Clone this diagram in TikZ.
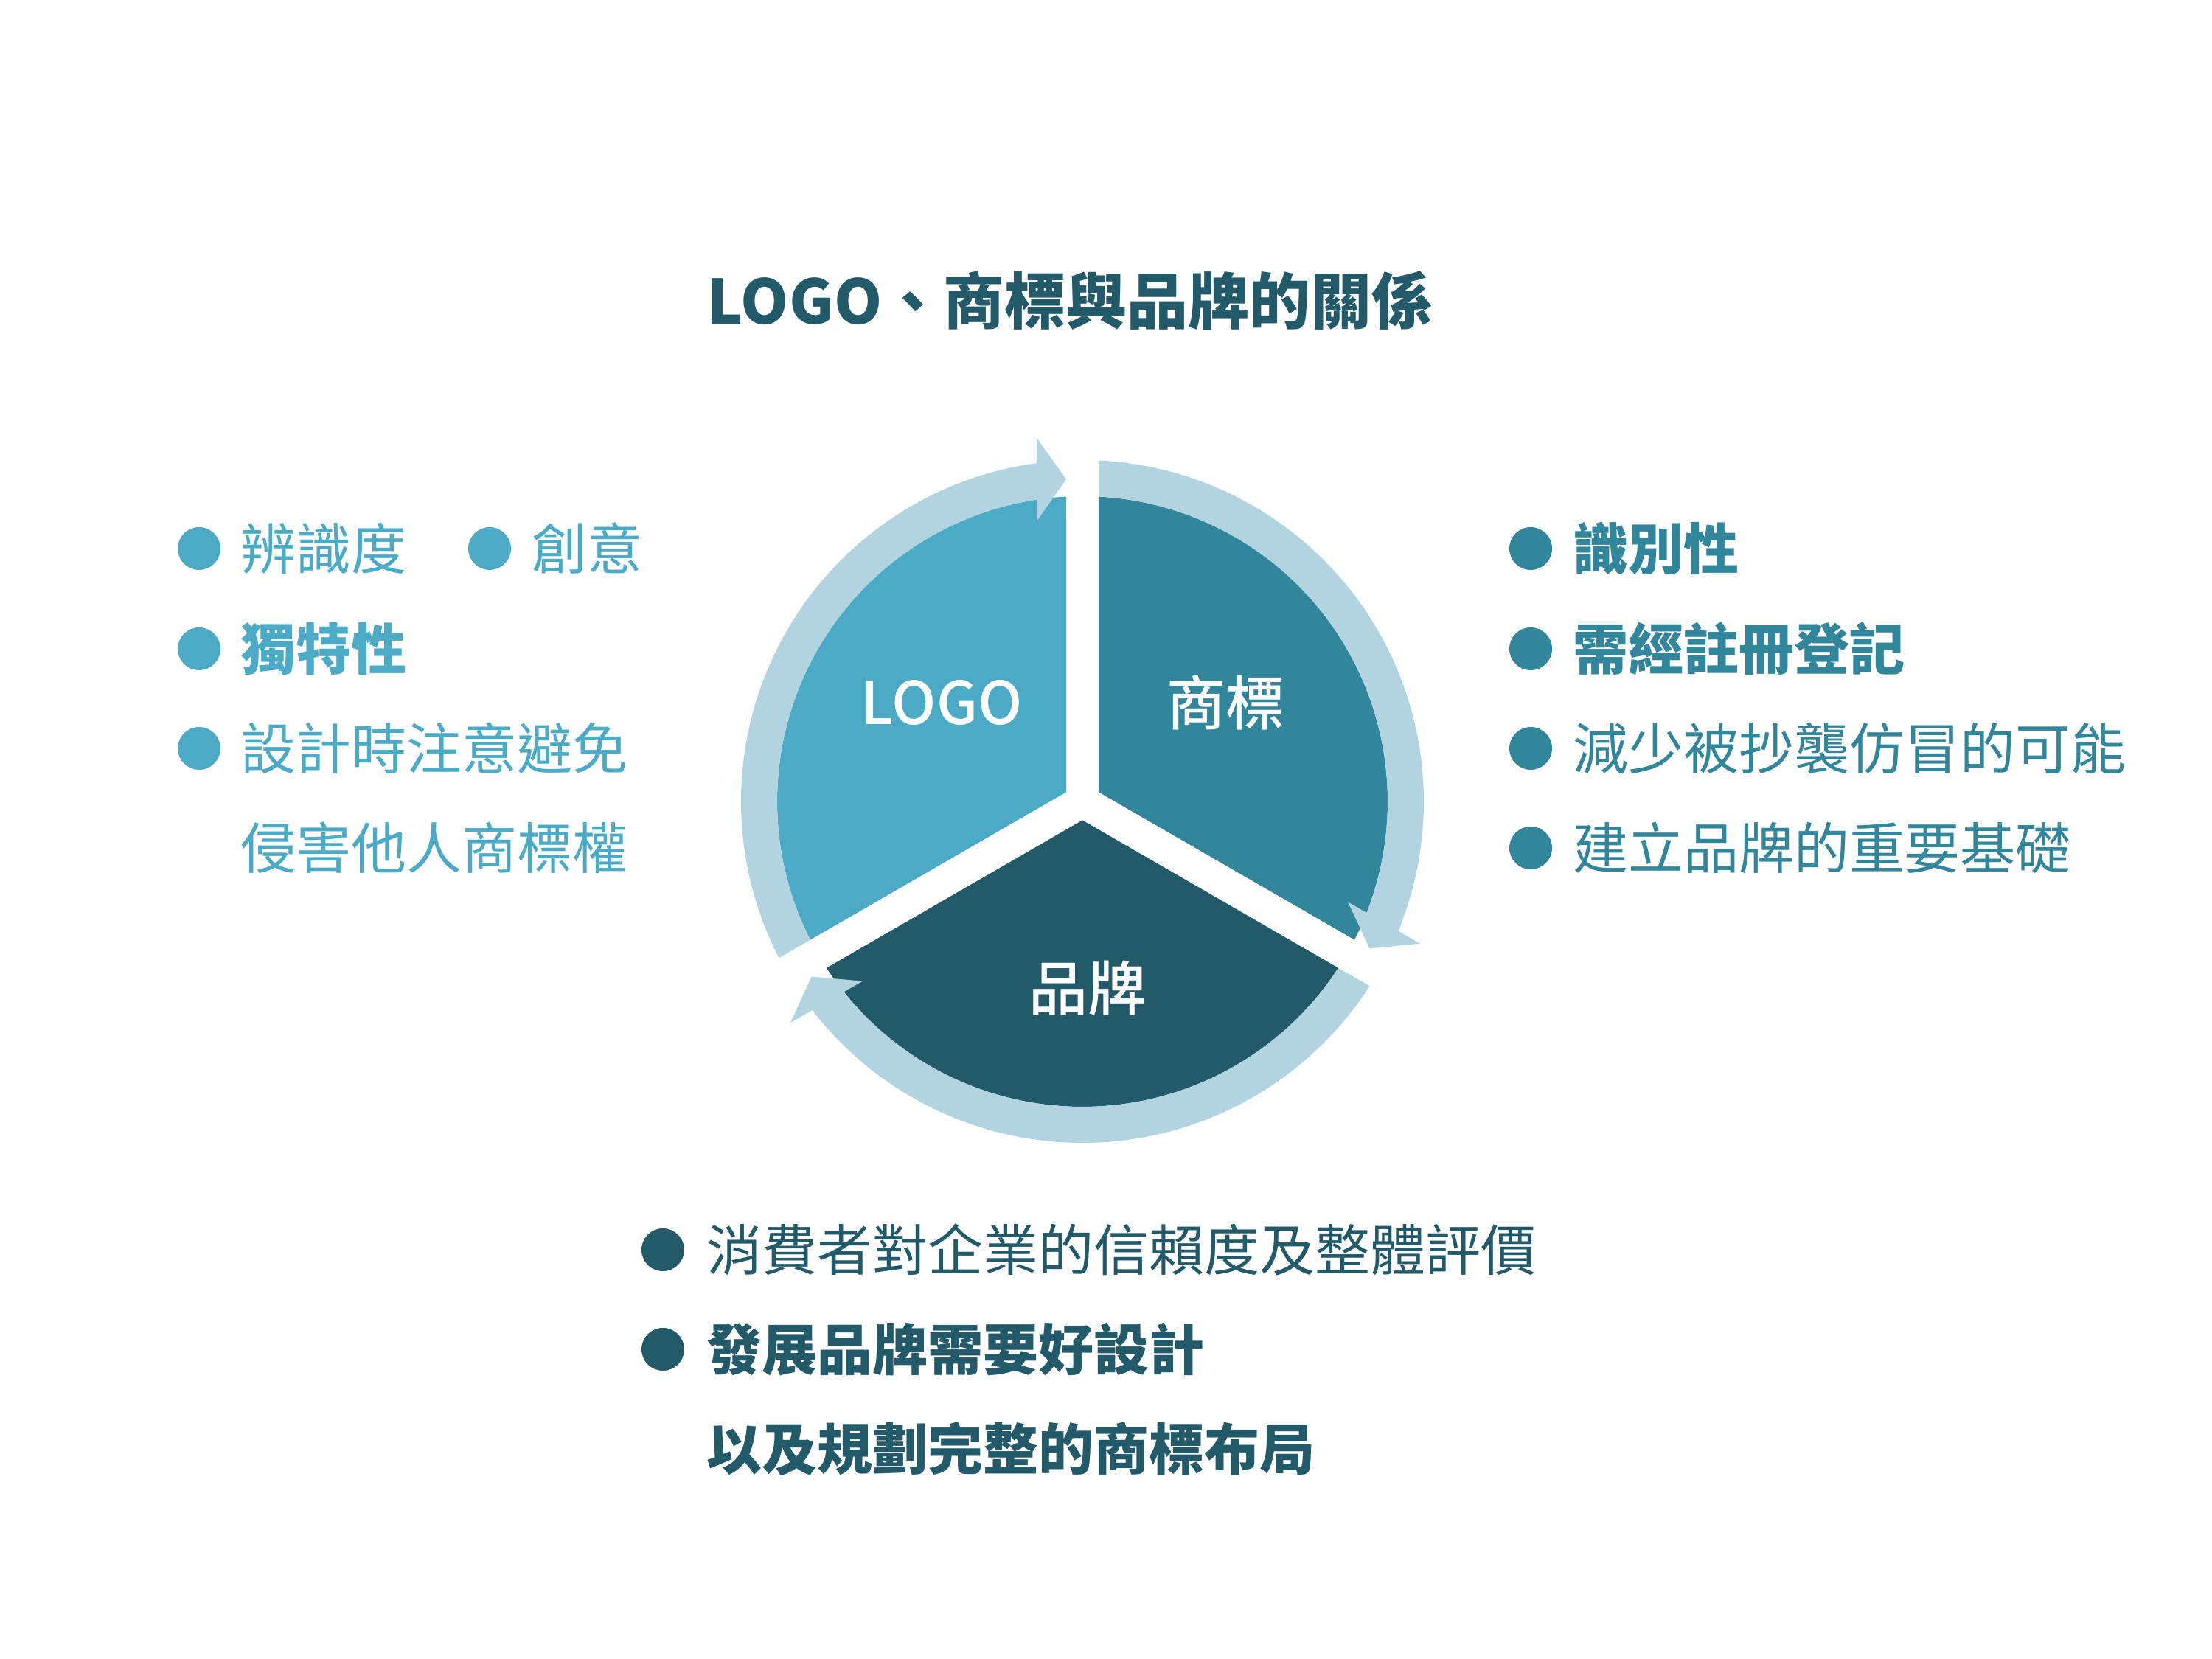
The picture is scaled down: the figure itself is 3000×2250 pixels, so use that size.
\documentclass[tikz,border=0pt]{standalone}
\usepackage{fontspec}
\setmainfont{Noto Sans CJK TC}
\newfontfamily\medfont{Noto Sans CJK TC Medium}
\definecolor{ringc}{HTML}{B1D4E0}
\definecolor{logoc}{HTML}{4BABC6}
\definecolor{tmc}{HTML}{32869C}
\definecolor{brc}{HTML}{225A6A}
\tikzset{
  ringarrow/.style={fill=ringc},
  bul/.style={circle,inner sep=0pt,minimum size=58pt},
  body/.style={anchor=west,inner sep=0pt,font=\fontsize{75}{90}\selectfont},
  pielabel/.style={inner sep=0pt,text=white,font=\medfont\fontsize{80}{96}\selectfont}
}
\begin{document}
\begin{tikzpicture}[x=1pt,y=1pt]
\fill[white] (0,0) rectangle (3000,2250);
\useasboundingbox (0,0) rectangle (3000,2250);
% pie slices and ring arrows
\foreach \rot/\col in {0/logoc,-120/tmc,-240/brc}{
  \begin{scope}[shift={(1468,1163)},rotate=\rot]
    \fill[\col] (150:25.4) -- (93.05:414) arc[start angle=93.05,end angle=206.95,radius=414pt] -- cycle;
    \fill[ringarrow] (207.28:463) arc[start angle=207.28,end angle=97.70,radius=463pt]
      -- (-62,493) -- (-22,437) -- (-62,380) -- (98.61:414)
      arc[start angle=98.61,end angle=206.95,radius=414pt] -- cycle;
  \end{scope}
}
% title
\node[inner sep=0pt,text=brc,font=\bfseries\fontsize{83}{100}\selectfont] (title) at (1451,1842) {LOGO、商標與品牌的關係};
% pie labels
\node[pielabel] (lLogo) at (1277,1297) {LOGO};
\node[pielabel] (lTm) at (1662,1297) {商標};
\node[pielabel] (lBr) at (1475,910) {品牌};
% left column
\node[bul,fill=logoc] (lb1) at (270,1506) {};
\node[body,text=logoc] (lt1) at (326,1506) {辨識度};
\node[bul,fill=logoc] (lb2) at (664,1506) {};
\node[body,text=logoc] (lt2) at (721,1506) {創意};
\node[bul,fill=logoc] (lb3) at (270,1370) {};
\node[body,text=logoc,font=\bfseries\fontsize{75}{90}\selectfont] (lt3) at (326,1370) {獨特性};
\node[bul,fill=logoc] (lb4) at (270,1235) {};
\node[body,text=logoc] (lt4) at (326,1235) {設計時注意避免};
\node[body,text=logoc] (lt5) at (326,1100) {侵害他人商標權};
% right column
\node[bul,fill=tmc] (rb1) at (2076,1506) {};
\node[body,text=tmc,font=\bfseries\fontsize{75}{90}\selectfont] (rt1) at (2133,1506) {識別性};
\node[bul,fill=tmc] (rb2) at (2076,1370) {};
\node[body,text=tmc,font=\bfseries\fontsize{75}{90}\selectfont] (rt2) at (2133,1370) {需經註冊登記};
\node[bul,fill=tmc] (rb3) at (2076,1235) {};
\node[body,text=tmc] (rt3) at (2133,1235) {減少被抄襲仿冒的可能};
\node[bul,fill=tmc] (rb4) at (2076,1100) {};
\node[body,text=tmc] (rt4) at (2133,1100) {建立品牌的重要基礎};
% bottom
\node[bul,fill=brc] (bb1) at (899,555) {};
\node[body,text=brc] (bt1) at (958,555) {消費者對企業的信賴度及整體評價};
\node[bul,fill=brc] (bb2) at (899,420) {};
\node[body,text=brc,font=\bfseries\fontsize{75}{90}\selectfont] (bt2) at (958,420) {發展品牌需要好設計};
\node[body,text=brc,font=\bfseries\fontsize{75}{90}\selectfont] (bt3) at (958,285) {以及規劃完整的商標布局};
\end{tikzpicture}
\end{document}
